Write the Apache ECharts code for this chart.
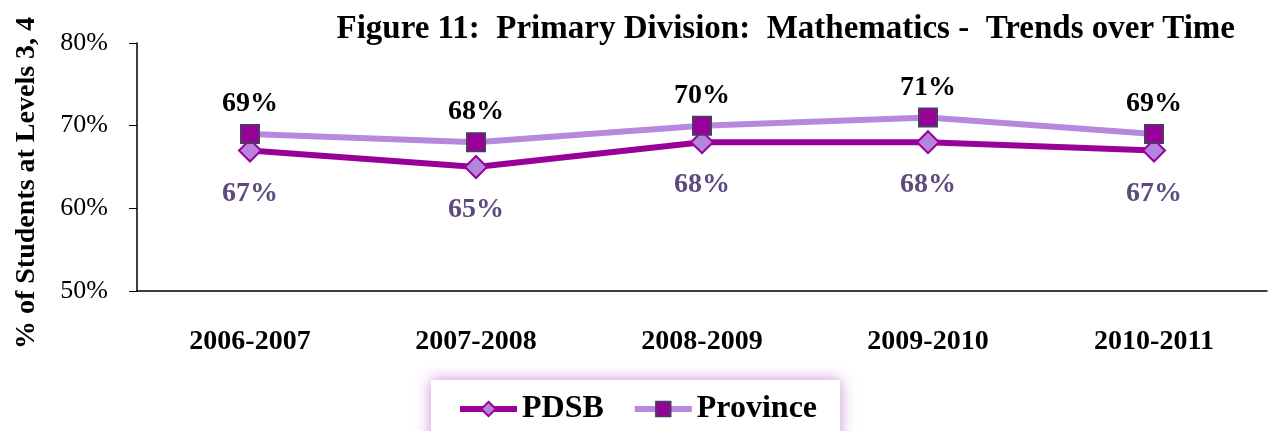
<!DOCTYPE html>
<html>
<head>
<meta charset="utf-8">
<script src="https://cdn.jsdelivr.net/npm/echarts@6/dist/echarts.min.js"></script>
<style>
  html, body { margin: 0; padding: 0; background: #fff; }
  #chart { width: 1270px; height: 431px; }
</style>
</head>
<body>
<div id="chart"></div>
<script>
const years = ['2006-2007', '2007-2008', '2008-2009', '2009-2010', '2010-2011']
const pdsb = [67, 65, 68, 68, 67]
const province = [69, 68, 70, 71, 69]

const serif = '"Liberation Serif", "DejaVu Serif", serif'

const chart = echarts.init(document.getElementById('chart'))

chart.setOption({
  animation: false,
  title: {
    text: 'Figure 11:  Primary Division:  Mathematics -  Trends over Time',
    right: 30,
    top: 8,
    textStyle: { fontFamily: serif, fontWeight: 'bold', fontSize: 33, color: '#000' }
  },
  // y axis title, placed by hand like the original
  graphic: [{
    type: 'text',
    x: 27,
    y: 183,
    rotation: Math.PI / 2,
    style: {
      text: '% of Students at Levels 3, 4',
      fontFamily: serif,
      fontWeight: 'bold',
      fontSize: 28,
      fill: '#000',
      align: 'center',
      verticalAlign: 'middle'
    }
  }],
  grid: { left: 137, right: 3, top: 43, bottom: 140 },
  legend: {
    bottom: -20,
    left: 431,
    itemWidth: 57,
    itemHeight: 18,
    itemGap: 28,
    padding: [13, 23, 26, 26],
    backgroundColor: '#fff',
    shadowColor: 'rgba(170, 60, 190, 0.6)',
    shadowBlur: 14,
    lineStyle: { width: 6 },
    textStyle: { fontFamily: serif, fontWeight: 'bold', fontSize: 32, color: '#000' },
    data: ['PDSB', 'Province']
  },
  xAxis: {
    type: 'category',
    data: years,
    axisLine: { lineStyle: { color: '#000', width: 1.5 } },
    axisTick: { length: 8, lineStyle: { color: '#000' } },
    axisLabel: { fontFamily: serif, fontWeight: 'bold', fontSize: 28, color: '#000', margin: 37 }
  },
  yAxis: {
    type: 'value',
    min: 50,
    max: 80,
    interval: 10,
    axisLine: { show: true, lineStyle: { color: '#000', width: 1.5 } },
    axisTick: { show: true, length: 8, lineStyle: { color: '#000' } },
    splitLine: { show: false },
    axisLabel: { fontFamily: serif, fontSize: 26, color: '#000', margin: 29, formatter: '{value}%' }
  },
  series: [
    {
      name: 'PDSB',
      type: 'line',
      data: pdsb,
      symbol: 'diamond',
      symbolSize: 22,
      lineStyle: { color: '#990099', width: 6 },
      itemStyle: { color: '#B584DC', borderColor: '#990099', borderWidth: 2 },
      label: {
        show: true,
        position: 'bottom',
        distance: 17,
        formatter: '{c}%',
        fontFamily: serif,
        fontWeight: 'bold',
        fontSize: 28,
        color: '#5F4A7E'
      }
    },
    {
      name: 'Province',
      type: 'line',
      data: province,
      symbol: 'rect',
      symbolSize: 18,
      lineStyle: { color: '#B888DD', width: 6 },
      itemStyle: { color: '#990099', borderColor: '#4A3C63', borderWidth: 2 },
      label: {
        show: true,
        position: 'top',
        distance: 6,
        formatter: '{c}%',
        fontFamily: serif,
        fontWeight: 'bold',
        fontSize: 28,
        color: '#000'
      }
    }
  ]
})

window.addEventListener('resize', () => {
  chart.resize()
})
</script>
</body>
</html>
